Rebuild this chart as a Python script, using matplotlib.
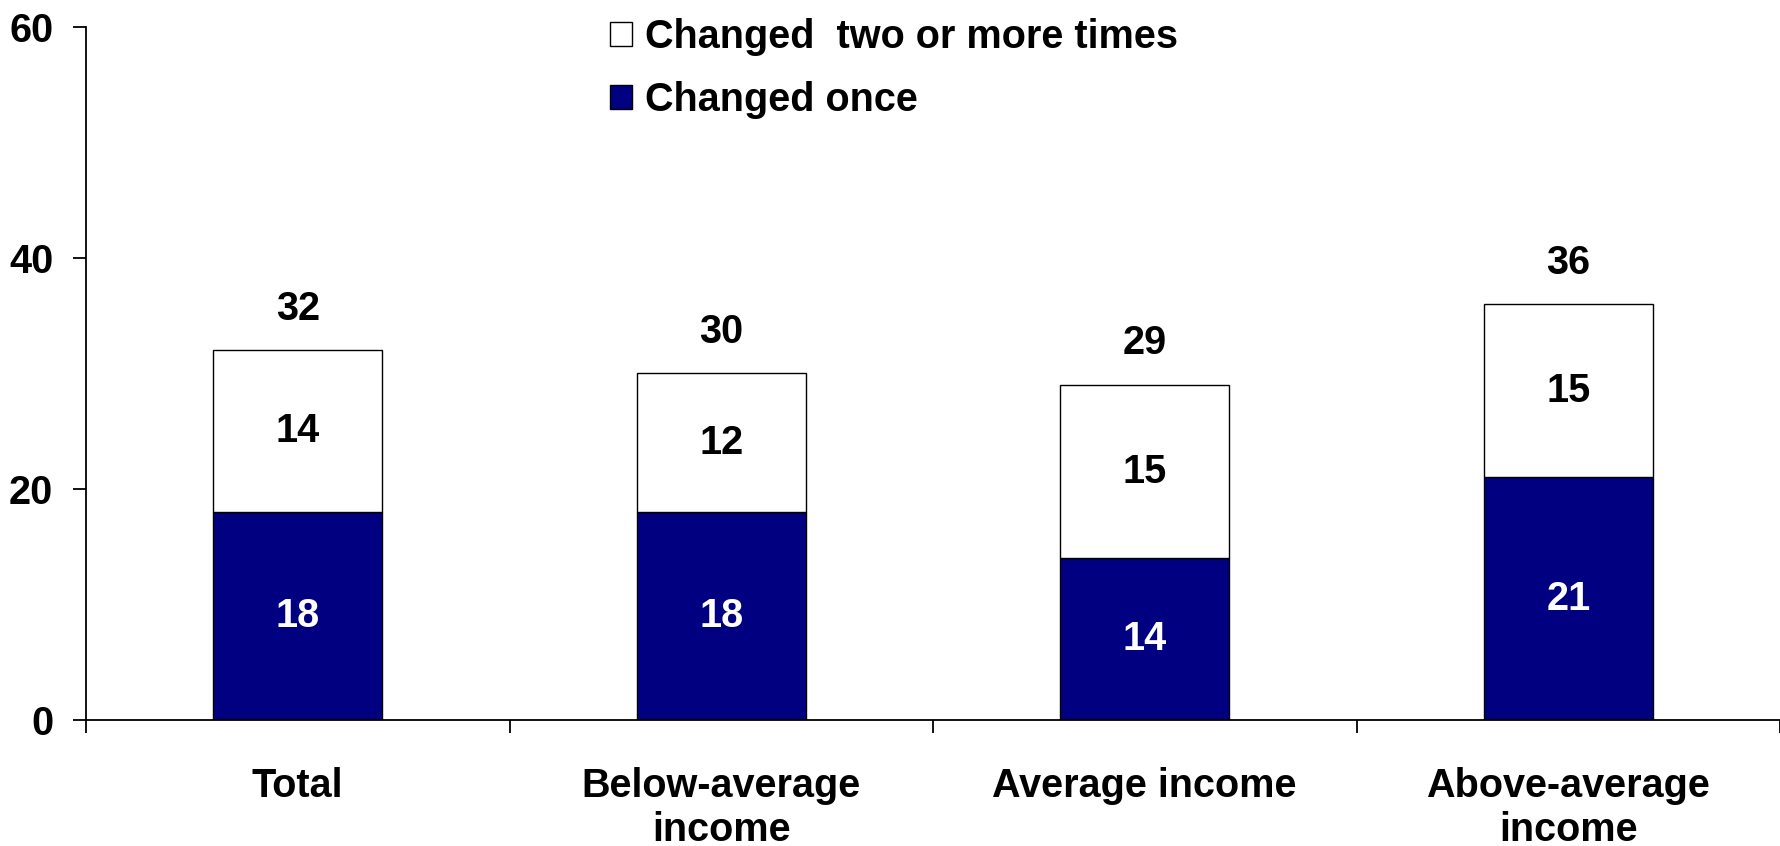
import numpy as np
import matplotlib
matplotlib.use("Agg")
import matplotlib.pyplot as plt

# dados do grafico
categories = ["Total", "Below-average\nincome", "Average income", "Above-average\nincome"]
changed_once = [18, 18, 14, 21]
changed_twice = [14, 12, 15, 15]
totals = [a + b for a, b in zip(changed_once, changed_twice)]
labels = ["Changed once", "Changed  two or more times"]

plt.rcParams["font.family"] = ["Liberation Sans", "DejaVu Sans"]
plt.rcParams["font.weight"] = "bold"

W, H = 1780, 846
fig = plt.figure(figsize=(W / 100, H / 100), dpi=100)
ax = fig.add_axes([86 / W, (H - 720) / H, 1 - 86 / W, (720 - 27) / H])

x = np.arange(len(categories))
width = 0.40
fs = 28.5

b1 = ax.bar(x, changed_once, width, color="#000080", edgecolor="black", linewidth=1.0, label=labels[0])
b2 = ax.bar(x, changed_twice, width, bottom=changed_once, color="white", edgecolor="black",
            linewidth=1.0, label=labels[1])

# rotulos dos valores
for i in range(len(x)):
    ax.text(x[i], changed_once[i] / 2, str(changed_once[i]), ha="center", va="center",
            color="white", fontsize=fs, fontweight="bold")
    ax.text(x[i], changed_once[i] + changed_twice[i] / 2, str(changed_twice[i]), ha="center",
            va="center", color="black", fontsize=fs, fontweight="bold")
    ax.annotate(str(totals[i]), (x[i], totals[i]), xytext=(0, 22), textcoords="offset points",
                ha="center", va="baseline", fontsize=fs, fontweight="bold")

ax.set_ylim(0, 60)
ax.set_xlim(-0.5, 3.486)
ax.set_yticks([0, 20, 40, 60])
ax.set_xticks(x)
ax.set_xticklabels(categories, fontsize=fs, fontweight="bold", linespacing=1.2)
ax.set_xticks(np.arange(-0.5, 4.0, 1.0), minor=True)

ax.tick_params(axis="y", labelsize=fs, length=9.5, width=1.3, pad=14)
ax.tick_params(axis="x", which="major", length=0, pad=34)
ax.tick_params(axis="x", which="minor", length=9.5, width=1.3)

for s in ["top", "right"]:
    ax.spines[s].set_visible(False)
for s in ["left", "bottom"]:
    ax.spines[s].set_linewidth(1.3)

handles = [b2, b1]
leg = ax.legend(handles, [labels[1], labels[0]], loc="upper left",
                bbox_to_anchor=(610 / W, 1 - 18 / H), bbox_transform=fig.transFigure,
                frameon=False, fontsize=fs, handlelength=0.56, handleheight=0.56,
                handletextpad=0.33, labelspacing=0.64, borderpad=0, borderaxespad=0)
for t in leg.get_texts():
    t.set_fontweight("bold")

plt.savefig("out.png", dpi=100)
